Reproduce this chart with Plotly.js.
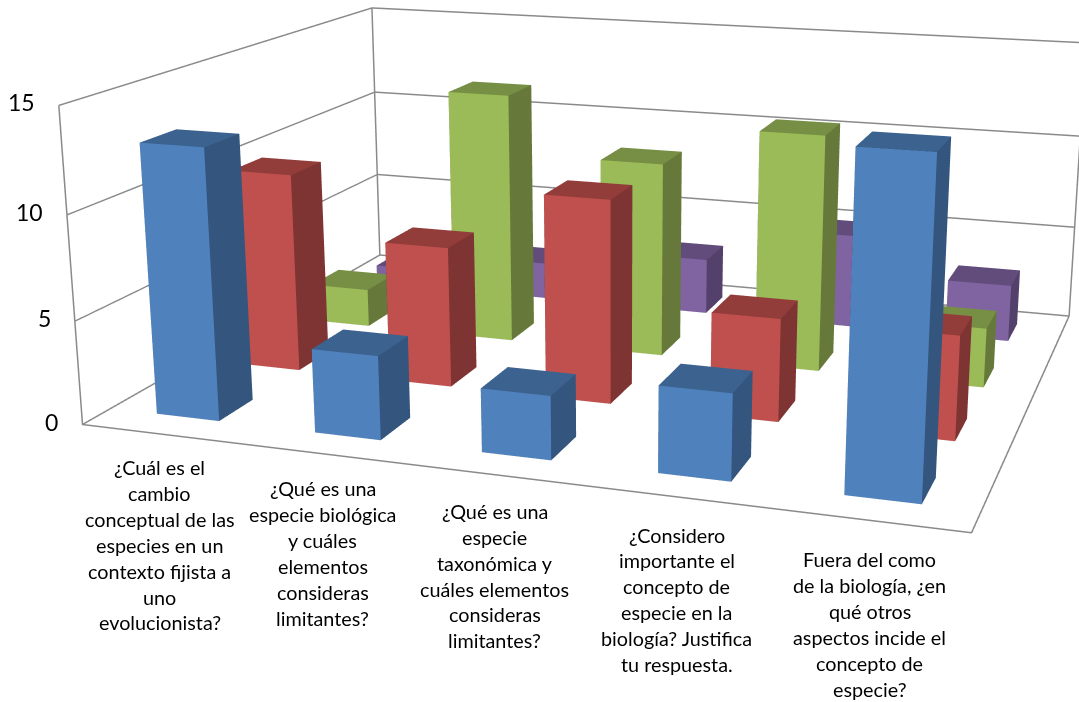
<!DOCTYPE html>
<html>
<head>
<meta charset="utf-8">
<script src="https://cdn.plot.ly/plotly-3.0.1.min.js"></script>
<style>
  html, body { margin: 0; width: 1079px; height: 702px; overflow: hidden; background: #fff; }
  #frame { position: absolute; left: 0; top: 0; width: 1079px; height: 702px; overflow: hidden; }
  /* The plot is larger than the frame: plotly's field of view is fixed, so a
     bigger canvas gives the long-lens look of the 3D column chart. */
  #chart { position: absolute; left: -5px; top: -563px; width: 1240px; height: 1726px; }
</style>
</head>
<body>
<div id="frame"><div id="chart"></div></div>
<script>
// Responses per question, one list per answer group (front row to back row).
var blueValues = [13, 4, 3, 4, 15];
var redValues = [10, 7, 10, 5, 5];
var greenValues = [2, 13, 10, 12, 3];
var purpleValues = [1, 2, 3, 5, 3];

var zTicks = [0, 5, 10, 15];

var categoryLines = [
  ['¿Cuál es el', 'cambio', 'conceptual de las', 'especies en un', 'contexto fijista a', 'uno', 'evolucionista?'],
  ['¿Qué es una', 'especie biológica', 'y cuáles', 'elementos', 'consideras', 'limitantes?'],
  ['¿Qué es una', 'especie', 'taxonómica y', 'cuáles elementos', 'consideras', 'limitantes?'],
  ['¿Considero', 'importante el', 'concepto de', 'especie en la', 'biología? Justifica', 'tu respuesta.'],
  ['Fuera del como', 'de la biología, ¿en', 'qué otros', 'aspectos incide el', 'concepto de', 'especie?']
];

var seriesRows = [
  { values: blueValues, front: '#4f81bd', side: '#34557d', top: '#3c6290' },
  { values: redValues, front: '#c0504d', side: '#7e3432', top: '#933d3b' },
  { values: greenValues, front: '#9bbb59', side: '#66793a', top: '#768f44' },
  { values: purpleValues, front: '#8064a2', side: '#54416b', top: '#624c7c' }
];

var HALF_BAR = 0.2;
var WALL = '#8a8a8a';
var FONT = 'Lato, Carlito, sans-serif';

// One box per value: a mesh of 8 corners, shaded per face.
function columnsTrace(row, rowIndex) {
  var t = { type: 'mesh3d', x: [], y: [], z: [], i: [], j: [], k: [], facecolor: [],
    flatshading: true, hoverinfo: 'skip', showscale: false,
    lighting: { ambient: 1, diffuse: 0, specular: 0, roughness: 1, fresnel: 0 } };
  row.values.forEach(function (v, c) {
    var n = t.x.length;
    var x0 = c + 0.5 - HALF_BAR, x1 = c + 0.5 + HALF_BAR;
    var y0 = rowIndex + 0.5 - HALF_BAR, y1 = rowIndex + 0.5 + HALF_BAR;
    [[x0, y0, 0], [x1, y0, 0], [x1, y1, 0], [x0, y1, 0],
     [x0, y0, v], [x1, y0, v], [x1, y1, v], [x0, y1, v]].forEach(function (p) {
      t.x.push(p[0]); t.y.push(p[1]); t.z.push(p[2]);
    });
    [[0, 1, 5, 4, row.front], [1, 2, 6, 5, row.side], [4, 5, 6, 7, row.top],
     [3, 0, 4, 7, row.side], [2, 3, 7, 6, row.side], [0, 3, 2, 1, row.side]].forEach(function (q) {
      t.i.push(n + q[0], n + q[0]);
      t.j.push(n + q[1], n + q[2]);
      t.k.push(n + q[2], n + q[3]);
      t.facecolor.push(q[4], q[4]);
    });
  });
  return t;
}

// Outline of the floor and of the two walls.
var xMax = blueValues.length, yMax = seriesRows.length, zMax = zTicks[zTicks.length - 1];
var outline = {
  type: 'scatter3d', mode: 'lines', hoverinfo: 'skip', showlegend: false,
  line: { color: WALL, width: 3 },
  x: [0, 0, xMax, xMax, 0, 0, null, 0, 0, 0, null, 0, xMax, xMax],
  y: [0, 0, 0, yMax, yMax, 0, null, 0, yMax, yMax, null, yMax, yMax, yMax],
  z: [zMax, 0, 0, 0, 0, 0, null, zMax, zMax, 0, null, zMax, zMax, 0]
};

var annotations = [];
zTicks.forEach(function (v) {
  annotations.push({ x: 0, y: 0, z: v, text: String(v), showarrow: false,
    xanchor: 'right', yanchor: 'middle', xshift: -22, yshift: 3,
    font: { family: FONT, size: 23, color: '#000' } });
});
categoryLines.forEach(function (lines, c) {
  lines.forEach(function (line, n) {
    annotations.push({ x: c + 0.5, y: 0, z: 0, text: line, showarrow: false,
      xanchor: 'center', yanchor: 'middle', xshift: -1, yshift: -(33 + 1.5 * c + 25.9 * n),
      font: { family: FONT, size: 19.8, color: '#000' } });
  });
});

var hiddenAxis = { showgrid: false, zeroline: false, showline: false, showticklabels: false,
  ticks: '', showbackground: false, showspikes: false, title: { text: '' } };

var layout = {
  width: 1240, height: 1726,
  margin: { l: 0, r: 0, t: 0, b: 0 },
  paper_bgcolor: '#fff',
  showlegend: false,
  scene: {
    domain: { x: [0, 1], y: [0, 1] },
    aspectmode: 'manual',
    aspectratio: { x: 0.853, y: 0.6766, z: 0.3102 },
    camera: {
      projection: { type: 'perspective' },
      eye: { x: 0.6606, y: -1.9666, z: 0.5086 },
      center: { x: 0.0474, y: -0.1442, z: -0.0402 },
      up: { x: 0, y: 0, z: 1 }
    },
    xaxis: Object.assign({ range: [0, xMax] }, hiddenAxis),
    yaxis: Object.assign({ range: [0, yMax] }, hiddenAxis),
    zaxis: { range: [0, zMax], tickmode: 'array', tickvals: zTicks, showgrid: true, gridcolor: WALL, gridwidth: 3,
      zeroline: false, showline: false, showticklabels: false, ticks: '',
      showbackground: false, showspikes: false, title: { text: '' } },
    annotations: annotations
  }
};

var traces = seriesRows.map(columnsTrace).concat([outline]);
Plotly.newPlot('chart', traces, layout, { displayModeBar: false });
</script>
</body>
</html>
